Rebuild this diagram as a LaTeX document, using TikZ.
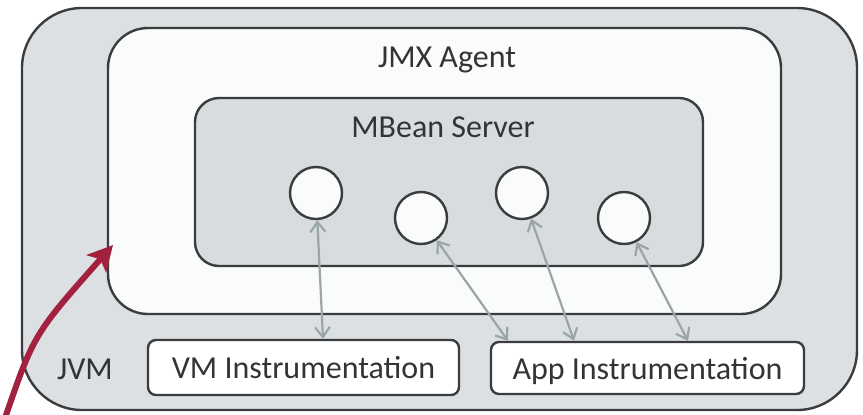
\documentclass[tikz,border=0pt]{standalone}
\usepackage{fontspec}
\setmainfont{Carlito}
\usetikzlibrary{arrows.meta}

\definecolor{edge}{HTML}{3A3C3D}
\definecolor{ink}{HTML}{333435}
\definecolor{jvmfill}{HTML}{DDE0E2}
\definecolor{agentfill}{HTML}{FAFBFB}
\definecolor{serverfill}{HTML}{D8DCDF}
\definecolor{linkgray}{HTML}{9AA5AA}
\definecolor{pointer}{HTML}{A4203F}

\begin{document}
\begin{tikzpicture}[x=0.5pt, y=-0.5pt,
    box/.style={draw=edge, line width=1.2pt, inner sep=0pt, rounded corners=#1},
    box/.default=4pt,
    lbl/.style={text=ink, font=\fontsize{16}{19}\selectfont, inner sep=0pt, anchor=base},
    bean/.style={circle, draw=edge, line width=1.2pt, fill=agentfill, minimum size=26pt, inner sep=0pt},
    link/.style={draw=linkgray, line width=1.1pt, {Straight Barb[length=5pt,width=7.5pt]}-{Straight Barb[length=5pt,width=7.5pt]}}]
  \useasboundingbox (0, 0) rectangle (863, 414);
  % containers
  \node (jvm) [box=30pt, fill=jvmfill, minimum width=417.5pt, minimum height=201pt] at (439.5, 209) {};
  \node (agent) [box=20pt, fill=agentfill, minimum width=336.5pt, minimum height=143pt] at (444.5, 171) {};
  \node (server) [box=12pt, fill=serverfill, minimum width=254pt, minimum height=84pt] at (449, 182) {};
  \node (jvmlbl) [lbl] at (85, 379) {JVM};
  \node (agentlbl) [lbl] at (447, 67) {JMX Agent};
  \node (serverlbl) [lbl] at (443, 137) {MBean Server};
  % mbeans
  \node (b1) [bean] at (316, 193) {};
  \node (b2) [bean] at (421, 218) {};
  \node (b3) [bean] at (522, 193) {};
  \node (b4) [bean] at (624, 218) {};
  % instrumentation
  \node (vm) [box, fill=white, minimum width=155.5pt, minimum height=27.5pt, text=ink, font=\fontsize{16}{19}\selectfont, text depth=0pt] at (303.5, 367.5) {VM Instrumentation};
  \node (app) [box, fill=white, minimum width=156.5pt, minimum height=26pt, text=ink, font=\fontsize{16}{19}\selectfont, text depth=0pt] at (647.5, 368) {App Instrumentation};
  \draw [link] (b1) -- ([xshift=9.75pt]vm.north);
  \draw [link] (b2) -- ([xshift=-69.75pt]app.north);
  \draw [link] (b3) -- ([xshift=-36.75pt]app.north);
  \draw [link] (b4) -- ([xshift=20.25pt]app.north);
  % pointer
  \coordinate (tail) at (5, 418);
  \coordinate (tip) at (113, 245);
  \draw [pointer, line width=3pt, -{Stealth[length=12.5pt,width=13pt,inset=3pt]}] (tail) .. controls (34, 334) .. (tip);
\end{tikzpicture}
\end{document}
